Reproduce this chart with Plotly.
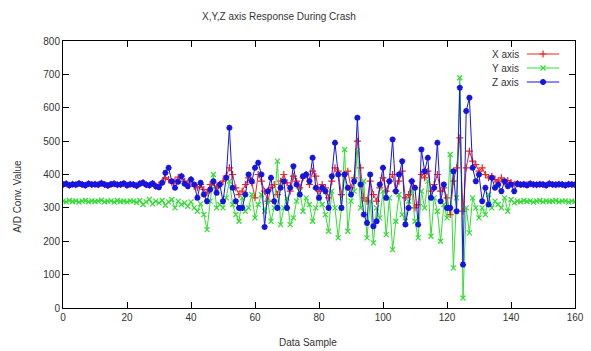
import plotly.graph_objects as go

samples = list(range(161))

x_axis = [
    370, 372, 368, 371, 369, 373, 370, 368, 372, 370, 371, 369, 374, 370, 367, 371, 372, 369, 370, 373,
    368, 371, 370, 366, 372, 375, 369, 368, 373, 365,
    368, 378, 390, 385, 375, 380, 392, 395, 380, 372, 385, 365, 360, 370, 355, 345, 370, 375, 360, 370,
    380, 395, 420, 400, 360, 340, 350, 370, 390, 375, 330, 400, 380, 350, 320, 360, 370, 340, 380, 400,
    375, 350, 395, 380, 360, 390, 400, 370, 410, 395, 350, 370, 360, 330, 380, 420, 410, 340, 400, 410,
    360, 390, 500, 420, 330, 320, 380, 340, 320, 360, 390, 350, 380, 400, 350, 380, 410, 330, 340, 380,
    300, 310, 400, 390, 410, 350, 370, 400, 350, 360, 330, 280, 380, 420, 510, 290, 420, 470, 440, 430,
    410, 420, 400, 390, 395, 385, 380, 390, 378, 382, 376, 371, 372, 370, 371, 369, 372, 370, 369, 371,
    370, 368, 372, 370, 369, 371, 370, 368, 371, 370, 369,
]

y_axis = [
    320, 318, 322, 319, 321, 317, 320, 322, 318, 321, 319, 320, 323, 318, 320, 321, 317, 322, 319, 320,
    318, 321, 320, 316, 322, 310, 318, 325, 312, 320,
    315, 322, 308, 318, 325, 300, 320, 310, 315, 305, 318, 300, 290, 312, 280, 235, 320, 400, 300, 310,
    300, 330, 380, 310, 280, 260, 330, 290, 300, 340, 270, 310, 340, 290, 320, 260, 300, 440, 250, 300,
    330, 250, 270, 320, 350, 290, 330, 310, 260, 300, 330, 310, 280, 230, 350, 300, 210, 300, 475, 230,
    320, 350, 470, 300, 380, 210, 320, 195, 300, 270, 350, 220, 330, 175, 260, 340, 280, 260, 320, 350,
    260, 210, 350, 300, 380, 215, 330, 290, 200, 310, 270, 460, 120, 330, 690, 30, 300, 225, 330, 300,
    270, 300, 280, 340, 300, 320, 310, 300, 330, 290, 325, 315, 320, 318, 322, 319, 321, 317, 320, 322,
    318, 321, 319, 320, 322, 318, 320, 321, 317, 320, 319,
]

z_axis = [
    370, 372, 368, 371, 369, 373, 370, 368, 372, 370, 371, 369, 374, 370, 367, 371, 372, 369, 370, 373,
    368, 371, 370, 366, 372, 375, 369, 368, 373, 365,
    362, 375, 405, 420, 380, 360, 378, 395, 372, 365, 385, 370, 330, 375, 340, 320, 355, 380, 345, 370,
    320, 390, 540, 360, 320, 300, 300, 340, 400, 380, 420, 435, 400, 243, 350, 390, 320, 300, 360, 380,
    300, 360, 425, 370, 340, 395, 400, 380, 450, 360, 330, 360, 350, 300, 395, 495, 400, 300, 400, 360,
    340, 380, 570, 370, 280, 255, 400, 245, 260, 370, 420, 330, 380, 505, 350, 400, 440, 250, 300, 380,
    360, 250, 475, 410, 450, 330, 360, 495, 320, 370, 300, 300, 410, 290, 660, 130, 590, 630, 420, 380,
    400, 320, 360, 310, 390, 360, 370, 350, 380, 365, 370, 350, 372, 369, 371, 368, 372, 370, 369, 371,
    370, 368, 372, 370, 369, 371, 370, 368, 371, 370, 369,
]

series_names = ["X axis", "Y axis", "Z axis"]
x_ticks = [0, 20, 40, 60, 80, 100, 120, 140, 160]
y_ticks = [0, 100, 200, 300, 400, 500, 600, 700, 800]

colors = ["#ee2222", "#33dd33", "#1515e0"]
symbols = ["cross-thin", "x-thin", "asterisk-open"]
msizes = [5, 5, 5]
mwidths = [1.2, 1.2, 1.8]

FONT = "Liberation Sans"
TXT = "#333333"

fig = go.Figure()
for name, vals, col, sym, ms, mw in zip(series_names, [x_axis, y_axis, z_axis], colors, symbols, msizes, mwidths):
    fig.add_trace(go.Scatter(
        x=samples, y=vals, mode="lines+markers", name=name,
        line=dict(color=col, width=1),
        marker=dict(symbol=sym, size=ms, color=col, line=dict(color=col, width=mw)),
        showlegend=False, xaxis="x", yaxis="y",
    ))

# gnuplot-style legend (text on the left, sample on the right), on a pixel overlay axis
leg_rows = [54, 68, 82]
for name, col, sym, ms, mw, py in zip(series_names, colors, symbols, msizes, mwidths, leg_rows):
    fig.add_trace(go.Scatter(
        x=[535, 568], y=[py, py], mode="lines", line=dict(color=col, width=1),
        showlegend=False, hoverinfo="skip", xaxis="x2", yaxis="y2",
    ))
    fig.add_trace(go.Scatter(
        x=[551.5], y=[py], mode="markers",
        marker=dict(symbol=sym, size=ms, color=col, line=dict(color=col, width=mw)),
        showlegend=False, hoverinfo="skip", xaxis="x2", yaxis="y2",
    ))
    fig.add_annotation(x=529, y=py, xref="x2", yref="y2", text=name, showarrow=False,
                       xanchor="right", yanchor="middle", font=dict(family=FONT, size=10, color=TXT))

axis_common = dict(
    showline=True, linecolor="black", linewidth=1, mirror="ticks",
    ticks="inside", ticklen=6, tickcolor="black", tickwidth=1,
    showgrid=False, zeroline=False, ticklabeloverflow="allow",
    tickfont=dict(family=FONT, size=10, color=TXT),
)

fig.update_layout(
    width=591, height=351,
    margin=dict(l=63, r=7, t=41, b=43),
    paper_bgcolor="white", plot_bgcolor="white",
    xaxis=dict(range=[0, 160], tickvals=x_ticks, **axis_common),
    yaxis=dict(range=[0, 800], tickvals=y_ticks, **axis_common),
    xaxis2=dict(range=[63, 584], overlaying="x", anchor="y2", visible=False, fixedrange=True),
    yaxis2=dict(range=[308, 41], overlaying="y", anchor="x2", visible=False, fixedrange=True),
    showlegend=False,
)

fig.add_annotation(x=0.422, y=1.09, xref="paper", yref="paper", text="X,Y,Z axis Response During Crash",
                   showarrow=False, font=dict(family=FONT, size=10, color=TXT), yanchor="middle")
fig.add_annotation(x=0.478, y=-0.131, xref="paper", yref="paper", text="Data Sample",
                   showarrow=False, font=dict(family=FONT, size=10, color=TXT), yanchor="middle")
fig.add_annotation(x=-0.088, y=0.42, xref="paper", yref="paper", text="A/D Conv. Value", textangle=-90,
                   showarrow=False, font=dict(family=FONT, size=10, color=TXT), xanchor="center", yanchor="middle")

fig.write_html("out.html")
